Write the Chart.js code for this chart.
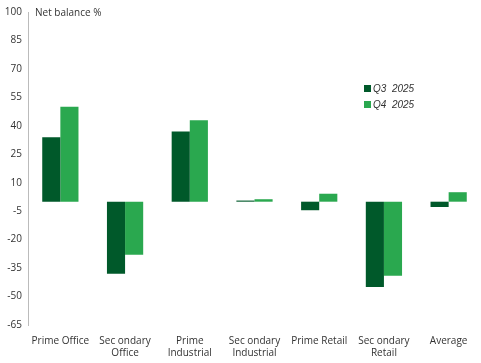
<!DOCTYPE html>
<html>
<head>
<meta charset="utf-8">
<script src="https://cdn.jsdelivr.net/npm/chart.js@4"></script>
<style>
  html, body { margin: 0; padding: 0; background: #fff; }
  #wrap { width: 481px; height: 363px; position: relative; }
</style>
</head>
<body>
<div id="wrap"><canvas id="chart"></canvas></div>
<script>
const categories = [
    ['Prime Office'], ['Sec ondary', 'Office'], ['Prime', 'Industrial'],
    ['Sec ondary', 'Industrial'], ['Prime Retail'], ['Sec ondary', 'Retail'], ['Average']
];
const q3Values = [34, -38, 37, 0.6, -4.5, -45, -2.8];
const q4Values = [50, -28, 43, 1.3, 4.2, -39, 5];
const seriesNames = ['Q3  2025', 'Q4  2025'];
const yTicks = { min: -65, max: 100, step: 15 };

const FONT = '"Open Sans", "Noto Sans", sans-serif';

// title and custom legend drawn on canvas
const extras = {
    id: 'extras',
    afterDraw(chart) {
        const ctx = chart.ctx;
        ctx.save();
        ctx.fillStyle = '#333';
        ctx.font = '10px ' + FONT;
        ctx.textBaseline = 'middle';
        ctx.fillText('Net balance %', 35, 13);

        ctx.font = 'italic 10px "Liberation Sans", sans-serif';
        chart.data.datasets.forEach((ds, i) => {
            const y = 89 + i * 16;
            ctx.fillStyle = ds.backgroundColor;
            ctx.fillRect(364, y - 4, 7, 7);
            ctx.fillStyle = '#333';
            ctx.fillText(ds.label, 373, y);
        });
        ctx.restore();
    }
};

new Chart(document.getElementById('chart'), {
    type: 'bar',
    data: {
        labels: categories,
        datasets: [
            { label: seriesNames[0], data: q3Values, backgroundColor: '#00592a' },
            { label: seriesNames[1], data: q4Values, backgroundColor: '#2aa84f' }
        ]
    },
    options: {
        responsive: true,
        maintainAspectRatio: false,
        animation: false,
        layout: { padding: { top: 12, right: 0, left: 0, bottom: 0 } },
        datasets: { bar: { barPercentage: 1, categoryPercentage: 0.56 } },
        plugins: {
            legend: { display: false },
            tooltip: { enabled: false }
        },
        scales: {
            x: {
                grid: { display: false },
                border: { display: false },
                ticks: { color: '#333', font: { family: FONT, size: 10, lineHeight: 1.2 }, padding: 2, maxRotation: 0, autoSkip: false },
                afterFit(scale) { scale.height = 38; }
            },
            y: {
                min: yTicks.min,
                max: yTicks.max,
                ticks: { stepSize: yTicks.step, color: '#333', font: { family: FONT, size: 10 }, padding: 6 },
                grid: {
                    drawTicks: false,
                    color: c => c.tick && c.tick.value === 0 ? '#aaa' : 'transparent'
                },
                border: { display: true, color: '#bbb' },
                afterFit(scale) { scale.width = 28; }
            }
        }
    },
    plugins: [extras]
});
</script>
</body>
</html>
